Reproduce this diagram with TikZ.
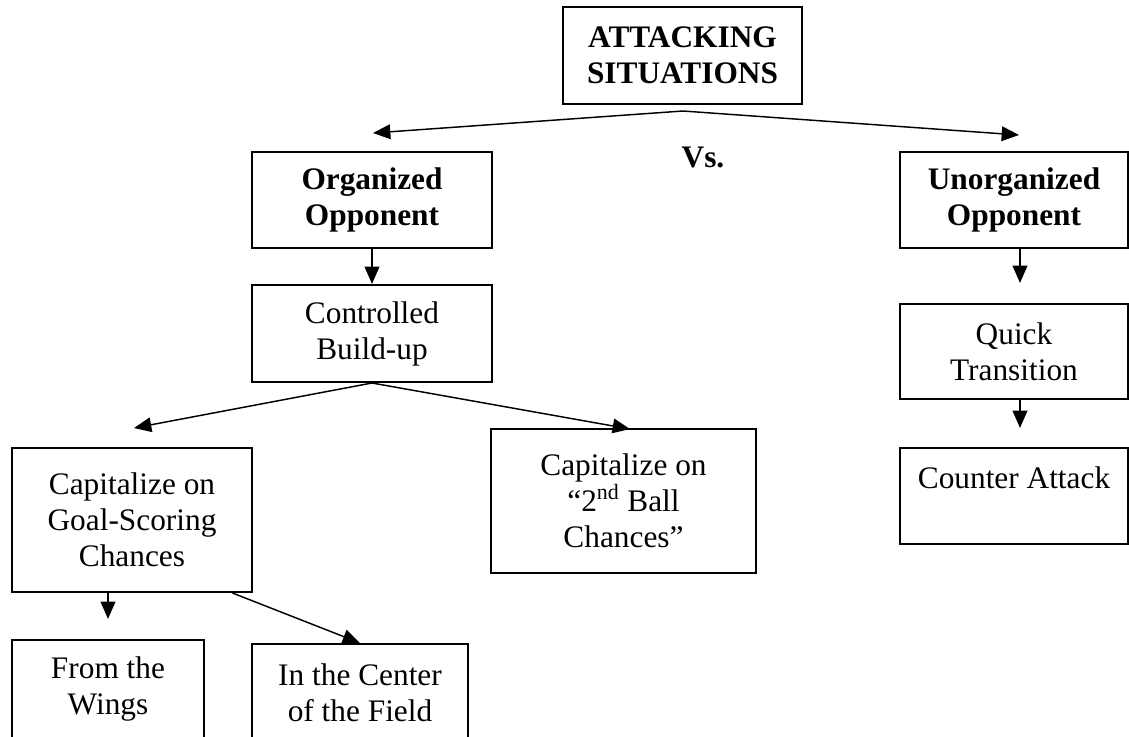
\documentclass[tikz,border=0pt]{standalone}
\usepackage{fontspec}
\setmainfont{Liberation Serif}
\usetikzlibrary{arrows.meta}
\newcommand{\boxfont}{\fontsize{23.5}{27}\selectfont}
\tikzset{
    box/.style={draw, line width=1.5pt, inner sep=0pt, align=center, font=\boxfont},
    boldbox/.style={box, font=\boxfont\bfseries},
    arr/.style={-{Triangle[length=13pt,width=11pt]}, line width=1.1pt}
}
\begin{document}
\begin{tikzpicture}[x=0.75pt, y=-0.75pt]
            \useasboundingbox (0, 0) rectangle (1129, 736);
            \clip (0, 0) rectangle (1129, 736);

            \node[boldbox, minimum width=179.25pt, minimum height=72.75pt] (top) at (682.5, 55.5) {ATTACKING\\SITUATIONS};
            \node[font=\boxfont\bfseries] (vs) at (703, 157) {Vs.};

            \node[boldbox, minimum width=180pt, minimum height=72pt] (org) at (372, 200) {Organized\\Opponent};
            \node[box, minimum width=180pt, minimum height=72.75pt] (ctrl) at (372, 333.5) {Controlled\\Build-up};
            \node[box, minimum width=180pt, minimum height=108pt] (goal) at (132, 520) {Capitalize on\\Goal-Scoring\\Chances};
            \node[box, minimum width=198.75pt, minimum height=108pt] (ball) at (623.5, 501) {Capitalize on\\“2\textsuperscript{nd} Ball\\Chances”};
            \node[box, minimum width=144pt, minimum height=73.5pt] (wings) at (108, 689) {From the\\Wings};
            \node[box, minimum width=162pt, minimum height=73.5pt] (field) at (360, 693) {In the Center\\of the Field};

            \node[boldbox, minimum width=171pt, minimum height=72pt] (unorg) at (1014, 200) {Unorganized\\Opponent};
            \node[box, minimum width=171pt, minimum height=71.25pt] (quick) at (1014, 351.5) {Quick\\Transition};
            \node[box, minimum width=171pt, minimum height=72pt] (counter) at (1014, 496) {Counter Attack\\\mbox{}};

            \coordinate (apex) at (683, 111);
            \coordinate (lt) at (373, 133);
            \coordinate (rt) at (1019, 135);
            \coordinate (gt) at (134, 428);
            \coordinate (bt) at (630, 429);
            \coordinate (wt) at (108, 619);
            \coordinate (qt) at (1020, 283);
            \coordinate (ct) at (1020, 428);

            \draw[arr] (apex) -- (lt);
            \draw[arr] (apex) -- (rt);
            \draw[arr] (org) -- (ctrl);
            \draw[arr] (ctrl.south) -- (gt);
            \draw[arr] (ctrl.south) -- (bt);
            \draw[arr] (goal.south -| wt) -- (wt);
            \draw[arr] (goal.-36) -- (field.north);
            \draw[arr] (unorg.south -| qt) -- (qt);
            \draw[arr] (quick.south -| ct) -- (ct);
        \end{tikzpicture}
\end{document}
